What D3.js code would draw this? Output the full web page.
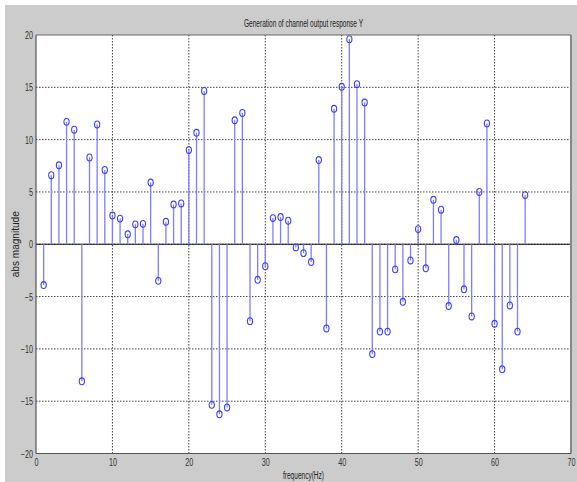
<!DOCTYPE html>
<html>
<head>
<meta charset="utf-8">
<script src="https://cdn.jsdelivr.net/npm/d3@7"></script>
<style>
  html, body { margin: 0; padding: 0; background: #fff; }
  svg { display: block; }
  text { font-family: 'Liberation Sans', Arial, sans-serif; fill: #222; }
</style>
</head>
<body>
<div id="chart"></div>
<script>
// frequency bins and the channel output values
const freq = [1, 2, 3, 4, 5, 6, 7, 8, 9, 10, 11, 12, 13, 14, 15, 16,
  17, 18, 19, 20, 21, 22, 23, 24, 25, 26, 27, 28, 29, 30, 31, 32,
  33, 34, 35, 36, 37, 38, 39, 40, 41, 42, 43, 44, 45, 46, 47, 48,
  49, 50, 51, 52, 53, 54, 55, 56, 57, 58, 59, 60, 61, 62, 63, 64];
const response = [-3.9, 6.6, 7.55, 11.7, 10.95, -13.1, 8.3, 11.45, 7.1, 2.75, 2.45, 0.95, 1.9, 1.95, 5.9, -3.5,
  2.15, 3.8, 3.9, 9.0, 10.65, 14.65, -15.35, -16.25, -15.6, 11.85, 12.55, -7.35, -3.4, -2.1, 2.5, 2.6,
  2.25, -0.3, -0.85, -1.7, 8.05, -8.05, 12.95, 15.05, 19.6, 15.3, 13.55, -10.5, -8.35, -8.35, -2.4, -5.5,
  -1.55, 1.45, -2.3, 4.25, 3.3, -5.9, 0.4, -4.3, -6.9, 5.0, 11.55, -7.6, -11.95, -5.85,
  -8.35, 4.7];
const xTicks = [0, 10, 20, 30, 40, 50, 60, 70];
const yTicks = [-20, -15, -10, -5, 0, 5, 10, 15, 20];

const W = 577, H = 482;
const margin = { top: 35, right: 6, bottom: 28.5, left: 36 },
  width = 571 - margin.left,
  height = 453.5 - margin.top;

const x = d3.scaleLinear().domain([0, 70]).range([0, width]);
const y = d3.scaleLinear().domain([-20, 20]).range([height, 0]);

const svg = d3.select('#chart')
  .append('svg')
  .attr('width', W)
  .attr('height', H);

// figure background (with the light strip at top / left of the screenshot)
svg.append('rect').attr('width', W).attr('height', H).style('fill', '#fff');
svg.append('rect').attr('x', 5).attr('y', 5).attr('width', W - 5).attr('height', H - 5).style('fill', '#cccccc');

const g = svg.append('g')
  .attr('transform', 'translate(' + margin.left + ',' + margin.top + ')');

g.append('rect').attr('width', width).attr('height', height).style('fill', '#fff');

// dotted grid
g.selectAll('.gx')
  .data(xTicks.slice(1, -1))
  .enter()
  .append('line')
  .attr('class', 'gx')
  .attr('x1', (d) => x(d)).attr('x2', (d) => x(d))
  .attr('y1', 0).attr('y2', height)
  .style('stroke', '#444').style('stroke-width', 1).style('stroke-dasharray', '1.5,1.5');

g.selectAll('.gy')
  .data(yTicks.slice(1, -1))
  .enter()
  .append('line')
  .attr('class', 'gy')
  .attr('x1', 0).attr('x2', width)
  .attr('y1', (d) => y(d)).attr('y2', (d) => y(d))
  .style('stroke', '#444').style('stroke-width', 1).style('stroke-dasharray', '1.5,1.5');

// stem baseline
g.append('line')
  .attr('x1', 0).attr('x2', width)
  .attr('y1', y(0)).attr('y2', y(0))
  .style('stroke', '#111').style('stroke-width', 1.2);

// stems
g.selectAll('.stem')
  .data(freq)
  .enter()
  .append('line')
  .attr('class', 'stem')
  .attr('x1', (d) => x(d)).attr('x2', (d) => x(d))
  .attr('y1', y(0))
  .attr('y2', (d, i) => y(response[i]))
  .style('stroke', '#7d7dff').style('stroke-width', 1.3);

// markers
g.selectAll('.mark')
  .data(freq)
  .enter()
  .append('ellipse')
  .attr('class', 'mark')
  .attr('cx', (d) => x(d))
  .attr('cy', (d, i) => y(response[i]))
  .attr('rx', 2.6).attr('ry', 3.4)
  .style('fill', 'none').style('stroke', '#3c3cff').style('stroke-width', 1.1);

// axes
const xAxis = d3.axisBottom(x).tickValues(xTicks).tickSize(0).tickPadding(5);
const yAxis = d3.axisLeft(y).tickValues(yTicks).tickSize(0).tickPadding(3);

const gx = g.append('g')
  .attr('transform', 'translate(0,' + height + ')')
  .call(xAxis);
const gy = g.append('g').call(yAxis);

[gx, gy].forEach((ax) => {
  ax.select('.domain').remove();
  ax.selectAll('text')
    .style('font-size', '10px')
    .style('fill', '#333')
    .each(function () {
      const w = this.getComputedTextLength();
      d3.select(this).attr('textLength', w * 0.72).attr('lengthAdjust', 'spacingAndGlyphs');
    });
});
gy.selectAll('text').attr('dy', '0.36em');

// axes box
g.append('line').attr('x1', 0).attr('x2', width).attr('y1', 0).attr('y2', 0)
  .style('stroke', '#666').style('stroke-width', 1);
g.append('line').attr('x1', width).attr('x2', width).attr('y1', 0).attr('y2', height)
  .style('stroke', '#888').style('stroke-width', 2);
g.append('line').attr('x1', 0).attr('x2', 0).attr('y1', 0).attr('y2', height)
  .style('stroke', '#555').style('stroke-width', 1.2);
g.append('line').attr('x1', 0).attr('x2', width).attr('y1', height).attr('y2', height)
  .style('stroke', '#555').style('stroke-width', 1.2);

// labels
svg.append('text')
  .attr('x', margin.left + width / 2)
  .attr('y', 27)
  .style('text-anchor', 'middle')
  .style('font-size', '10px')
  .attr('textLength', 119).attr('lengthAdjust', 'spacingAndGlyphs')
  .text('Generation of channel output response Y');

svg.append('text')
  .attr('x', margin.left + width / 2)
  .attr('y', 479)
  .style('text-anchor', 'middle')
  .style('font-size', '10px')
  .attr('textLength', 41).attr('lengthAdjust', 'spacingAndGlyphs')
  .text('frequency(Hz)');

svg.append('text')
  .attr('transform', 'translate(19,' + (margin.top + y(0)) + ') rotate(-90)')
  .style('text-anchor', 'middle')
  .style('font-size', '10px')
  .attr('textLength', 66).attr('lengthAdjust', 'spacingAndGlyphs')
  .text('abs magnitude');
</script>
</body>
</html>
